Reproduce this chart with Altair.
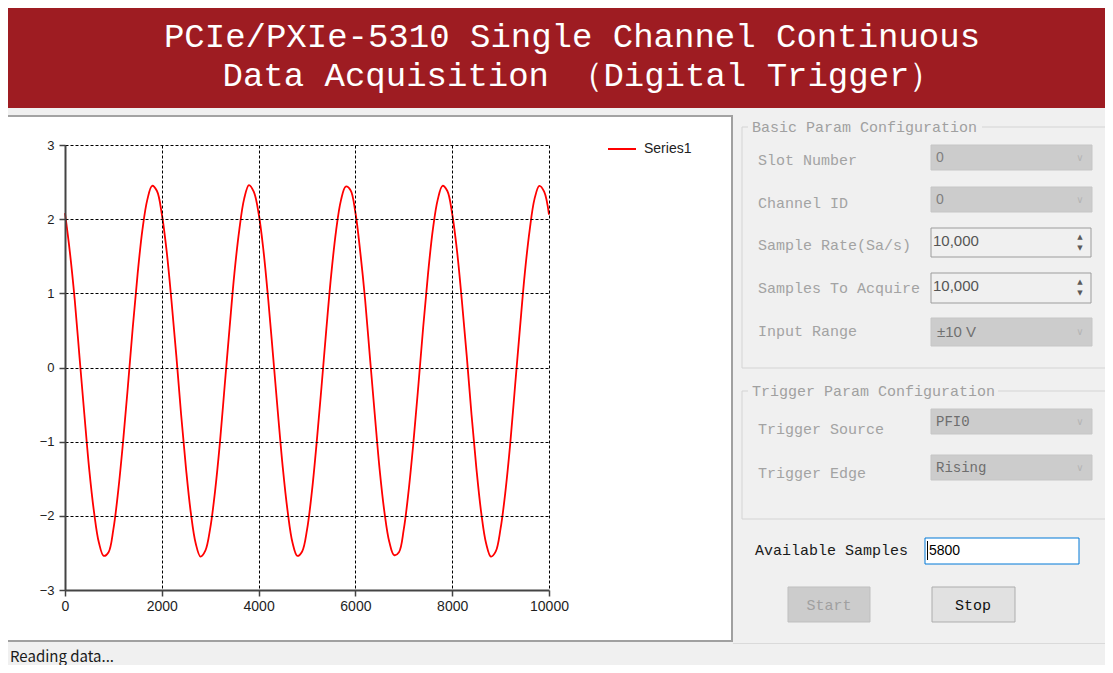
import altair as alt
import pandas as pd

# ---------------- data ----------------
sample_index = list(range(0, 10001, 100))
voltage = [
    2.08, 1.56, 0.92, 0.14, -0.63, -1.37, -1.95, -2.36, -2.54, -2.49,
    -2.18, -1.66, -1.00, -0.25, 0.54, 1.26, 1.86, 2.26, 2.45, 2.38,
    2.07, 1.57, 0.90, 0.16, -0.64, -1.36, -1.96, -2.37, -2.55, -2.47,
    -2.17, -1.67, -1.02, -0.24, 0.53, 1.27, 1.85, 2.27, 2.46, 2.37,
    2.08, 1.58, 0.91, 0.15, -0.62, -1.35, -1.94, -2.36, -2.54, -2.48,
    -2.19, -1.68, -1.01, -0.26, 0.52, 1.25, 1.84, 2.25, 2.44, 2.39,
    2.09, 1.56, 0.92, 0.14, -0.63, -1.37, -1.95, -2.35, -2.53, -2.49,
    -2.18, -1.66, -1.00, -0.25, 0.54, 1.26, 1.86, 2.26, 2.45, 2.38,
    2.07, 1.57, 0.90, 0.16, -0.64, -1.36, -1.96, -2.37, -2.55, -2.48,
    -2.17, -1.67, -1.02, -0.24, 0.53, 1.27, 1.85, 2.27, 2.45, 2.37,
    2.06,
]
series_names = ["Series1"]
x_ticks = [0, 2000, 4000, 6000, 8000, 10000]
y_ticks = [-3, -2, -1, 0, 1, 2, 3]

title_lines = ["PCIe/PXIe-5310 Single Channel Continuous",
               "Data Acquisition （Digital Trigger）"]
group_titles = ["Basic Param Configuration", "Trigger Param Configuration"]
field_labels = ["Slot Number", "Channel ID", "Sample Rate(Sa/s)",
                "Samples To Acquire", "Input Range", "Trigger Source", "Trigger Edge"]
combo_values = ["0", "0", "±10 V"]
spin_values = ["10,000", "10,000"]
trigger_values = ["PFI0", "Rising"]
avail_label = "Available Samples"
avail_value = "5800"
button_labels = ["Start", "Stop"]
status_text = "Reading data..."

# ---------------- layout (page pixels) ----------------
OX, OY = 65, 145          # plot origin on the page
PW, PH = 484, 445         # plot area size
SVG_W, SVG_H = 1097, 657  # whole drawing
PAD = {"left": OX - 8, "top": OY - 8,
       "right": SVG_W - (OX - 8) - PW, "bottom": SVG_H - (OY - 8) - PH}


def R(x1, y1, x2, y2, fill, stroke="transparent", sw=0):
    return dict(x1=x1 - OX, y1=y1 - OY, x2=x2 - OX, y2=y2 - OY,
                fill=fill, stroke=stroke, sw=sw)


def T(x, y, t, fs, c):
    return dict(x=x - OX, y=y - OY, t=t, fs=fs, c=c)


rects = [
    R(0, 0, 1113, 108, "#9e1c22"),
    R(5, 115, 733, 117, "#a3a3a3"),
    R(5, 117, 731, 640, "#ffffff"),
    R(731, 115, 733, 642, "#a0a0a0"),
    R(5, 640, 733, 642, "#a0a0a0"),
    R(733, 643, 1113, 644, "#dadada"),
    # group boxes
    R(742, 127, 1108, 368, "transparent", "#d4d4d4", 1),
    R(748, 118, 982, 136, "#f0f0f0"),
    R(742, 391, 1108, 519, "transparent", "#d4d4d4", 1),
    R(748, 382, 998, 400, "#f0f0f0"),
    # combos
    R(931, 145, 1092, 170, "#cccccc", "#c6c6c6", 1),
    R(931, 187, 1092, 212, "#cccccc", "#c6c6c6", 1),
    R(931, 318, 1092, 346, "#cccccc", "#c6c6c6", 1),
    R(931, 409, 1092, 434, "#cccccc", "#c6c6c6", 1),
    R(931, 455, 1092, 480, "#cccccc", "#c6c6c6", 1),
    # spins
    R(931, 228, 1091, 257, "#f0f0f0", "#9c9c9c", 1),
    R(931, 273, 1091, 303, "#f0f0f0", "#9c9c9c", 1),
    # available samples box + caret
    R(925, 538, 1079, 564, "#ffffff", "#0078d7", 1),
    R(927, 541, 928, 560, "#000000"),
    # buttons
    R(788, 587, 870, 622, "#cccccc", "#bfbfbf", 1),
    R(932, 587, 1015, 622, "#e1e1e1", "#adadad", 1),
]

mono_left = [
    T(752, 127, group_titles[0], 15, "#a0a0a0"),
    T(752, 391, group_titles[1], 15, "#a0a0a0"),
    T(758, 160, field_labels[0], 15, "#a3a3a3"),
    T(758, 203, field_labels[1], 15, "#a3a3a3"),
    T(758, 245, field_labels[2], 15, "#a3a3a3"),
    T(758, 288, field_labels[3], 15, "#a3a3a3"),
    T(758, 331, field_labels[4], 15, "#a3a3a3"),
    T(758, 429, field_labels[5], 15, "#a3a3a3"),
    T(758, 473, field_labels[6], 15, "#a3a3a3"),
    T(936, 422, trigger_values[0], 14, "#6e6e6e"),
    T(936, 468, trigger_values[1], 14, "#6e6e6e"),
    T(755, 550, avail_label, 15, "#1a1a1a"),
]
mono_center = [
    T(572, 37, title_lines[0], 34, "#ffffff"),
    T(583, 76, title_lines[1], 34, "#ffffff"),
    T(829, 605, button_labels[0], 15, "#a0a0a0"),
    T(973, 605, button_labels[1], 15, "#111111"),
]
sans_left = [
    T(936, 158, combo_values[0], 14, "#808080"),
    T(936, 200, combo_values[1], 14, "#808080"),
    T(937, 332, combo_values[2], 15, "#707070"),
    T(933, 241, spin_values[0], 15, "#555555"),
    T(933, 286, spin_values[1], 15, "#555555"),
    T(929, 551, avail_value, 14, "#000000"),
]
status_rows = [T(10, 657, status_text, 15, "#1a1a1a")]
symbols = [
    T(1080, 158, "∨", 10, "#b4b4b4"),
    T(1080, 200, "∨", 10, "#b4b4b4"),
    T(1080, 332, "∨", 10, "#b4b4b4"),
    T(1080, 422, "∨", 10, "#b4b4b4"),
    T(1080, 468, "∨", 10, "#b4b4b4"),
    T(1080, 237, "▲", 7, "#5a5a5a"),
    T(1080, 248, "▼", 7, "#5a5a5a"),
    T(1080, 282, "▲", 7, "#5a5a5a"),
    T(1080, 293, "▼", 7, "#5a5a5a"),
]

# ---------------- chart ----------------
rect_layer = alt.Chart(pd.DataFrame(rects)).mark_rect().encode(
    x=alt.X("x1:Q", scale=None, axis=None),
    x2="x2:Q",
    y=alt.Y("y1:Q", scale=None, axis=None),
    y2="y2:Q",
    fill=alt.Fill("fill:N", scale=None, legend=None),
    stroke=alt.Stroke("stroke:N", scale=None, legend=None),
    strokeWidth=alt.StrokeWidth("sw:Q", scale=None, legend=None),
)


def text_layer(rows, font, align="left"):
    return alt.Chart(pd.DataFrame(rows)).mark_text(
        font=font, align=align, baseline="middle"
    ).encode(
        x=alt.X("x:Q", scale=None, axis=None),
        y=alt.Y("y:Q", scale=None, axis=None),
        text="t:N",
        size=alt.Size("fs:Q", scale=None, legend=None),
        fill=alt.Fill("c:N", scale=None, legend=None),
    )


line_df = pd.DataFrame({
    "sample": sample_index,
    "value": voltage,
    "series": [series_names[0]] * len(sample_index),
})

axis_common = dict(
    title=None, grid=True, gridColor="#000000", gridDash=[3, 2], gridWidth=1,
    domainColor="#444444", domainWidth=2, tickColor="#444444", tickWidth=1.5,
    tickSize=6, labelFont="Liberation Sans", labelColor="#1e1e1e",
    labelFlush=False, zindex=1, format="d",
)

line_layer = alt.Chart(line_df).mark_line(strokeWidth=1.8, interpolate="catmull-rom").encode(
    x=alt.X("sample:Q",
            scale=alt.Scale(domain=[0, 10000], nice=False, zero=False),
            axis=alt.Axis(values=x_ticks, labelFontSize=14, labelPadding=3, **axis_common)),
    y=alt.Y("value:Q",
            scale=alt.Scale(domain=[-3, 3], nice=False, zero=False),
            axis=alt.Axis(values=y_ticks, labelFontSize=13, labelPadding=5, **axis_common)),
    color=alt.Color("series:N",
                    scale=alt.Scale(domain=series_names, range=["#ff0000"]),
                    legend=alt.Legend(title=None, orient="none", legendX=542, legendY=-11,
                                      symbolType="stroke", symbolSize=784,
                                      symbolStrokeWidth=2, labelFont="Liberation Sans",
                                      labelFontSize=14, labelColor="#222222",
                                      labelOffset=7, padding=0)),
)

chart = alt.layer(
    rect_layer,
    text_layer(mono_left, "Liberation Mono"),
    text_layer(mono_center, "Liberation Mono", "center"),
    text_layer(sans_left, "Liberation Sans"),
    text_layer(status_rows, "Noto Sans CJK SC"),
    text_layer(symbols, "DejaVu Sans", "center"),
    line_layer,
).properties(
    width=PW, height=PH,
    padding=PAD,
    autosize=alt.AutoSizeParams(type="none"),
    background="#f0f0f0",
).configure_view(strokeWidth=0)

chart.save("out.html", embed_options={"renderer": "svg", "actions": False})
